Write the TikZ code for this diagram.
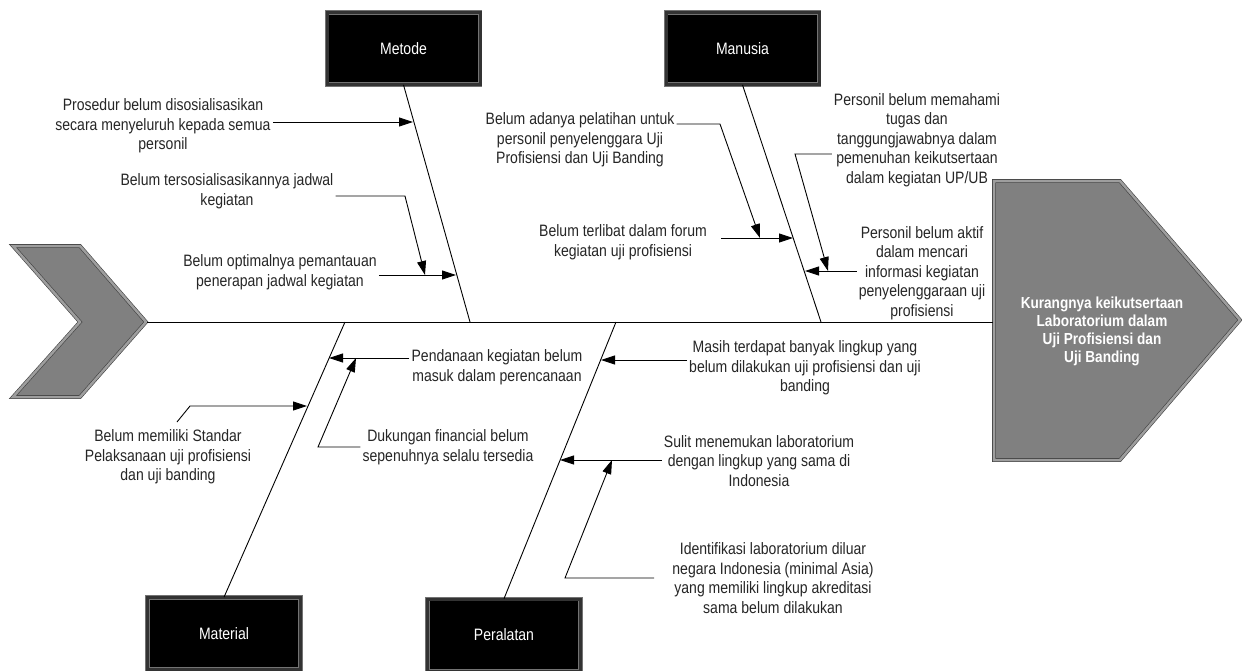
\documentclass[tikz,border=0pt]{standalone}
\usepackage{fontspec}
\setmainfont{Liberation Sans}[FakeStretch=0.85]
\usetikzlibrary{arrows.meta}

\begin{document}
\begin{tikzpicture}[x=1pt,y=-1pt,>={Triangle[length=14pt,width=9pt]},
  font=\fontsize{16.5}{19.5}\selectfont,
  cat/.style={rectangle,fill=black,draw=black!55,double=black!80,double distance=3pt,line width=0.7pt,minimum width=153pt,minimum height=72pt,text=white},
  cause/.style={align=center,text=black!85,inner sep=2pt},
  bone/.style={line width=0.9pt},
  arrowshape/.style={fill=black!50,draw=black!75,double=black!38,double distance=2.5pt,line width=0.6pt}]
\clip (0,0) rectangle (1242,670);
\fill [white] (0,0) rectangle (1242,670);
% tail and head
\filldraw [arrowshape] (13,246) -- (80,246) -- (146,322) -- (80,397) -- (13,397) -- (80,322) -- cycle;
\filldraw [arrowshape] (994,181) -- (1120,181) -- (1240,320) -- (1120,460) -- (994,460) -- cycle;
\coordinate (tail) at (147,322);
\coordinate (head) at (993,322);
\node at (1102,331) (Akibat) [align=center,text=white,font=\fontsize{16}{18}\selectfont\bfseries]
  {Kurangnya keikutsertaan\\Laboratorium dalam\\Uji Profisiensi dan\\Uji Banding};
\draw [bone] (tail) -- (head);

% categories
\node at (403.5,48.5) (Metode) [cat] {Metode};
\node at (742.5,48.5) (Manusia) [cat] {Manusia};
\node at (224,633.5) (Material) [cat] {Material};
\node at (504,635) (Peralatan) [cat] {Peralatan};
\coordinate (m0) at (470,322);
\coordinate (n0) at (821,322);
\coordinate (t0) at (345,322);
\coordinate (p0) at (616,322);
\draw [bone] (Metode.south) -- (m0);
\draw [bone] (Manusia.south) -- (n0);
\draw [bone] (Material.north) -- (t0);
\draw [bone] (Peralatan.north) -- (p0);

% causes
\node at (163,126) (c1) [cause] {Prosedur belum disosialisasikan\\secara menyeluruh kepada semua\\personil};
\node at (227,191) (c2) [cause] {Belum tersosialisasikannya jadwal\\kegiatan};
\node at (280,272) (c3) [cause] {Belum optimalnya pemantauan\\penerapan jadwal kegiatan};
\node at (580,140) (c4) [cause] {Belum adanya pelatihan untuk\\personil penyelenggara Uji\\Profisiensi dan Uji Banding};
\node at (623,242) (c5) [cause] {Belum terlibat dalam forum\\kegiatan uji profisiensi};
\node at (917,140) (c6) [cause] {Personil belum memahami\\tugas dan\\tanggungjawabnya dalam\\pemenuhan keikutsertaan\\dalam kegiatan UP/UB};
\node at (922,273) (c7) [cause] {Personil belum aktif\\dalam mencari\\informasi kegiatan\\penyelenggaraan uji\\profisiensi};
\node at (168,457) (c8) [cause] {Belum memiliki Standar\\Pelaksanaan uji profisiensi\\dan uji banding};
\node at (497,367) (c9) [cause] {Pendanaan kegiatan belum\\masuk dalam perencanaan};
\node at (448,447) (c10) [cause] {Dukungan financial belum\\sepenuhnya selalu tersedia};
\node at (805,368) (c11) [cause] {Masih terdapat banyak lingkup yang\\belum dilakukan uji profisiensi dan uji\\banding};
\node at (759,461) (c12) [cause] {Sulit menemukan laboratorium\\dengan lingkup yang sama di\\Indonesia};
\node at (773,578) (c13) [cause] {Identifikasi laboratorium diluar\\negara Indonesia (minimal Asia)\\yang memiliki lingkup akreditasi\\sama belum dilakukan};

% tips and bends
\coordinate (b1) at (413,122);
\coordinate (k2) at (405,196);
\coordinate (b2) at (425,275);
\coordinate (b3) at (456,275);
\coordinate (k4) at (720,124);
\coordinate (b4) at (760,238);
\coordinate (b5) at (793,238);
\coordinate (k6) at (795,154);
\coordinate (b6) at (828,271);
\coordinate (b7) at (805,271);
\coordinate (s8) at (177,422);
\coordinate (k8) at (190,406);
\coordinate (b8) at (307,406);
\coordinate (b9) at (329,358);
\coordinate (k10) at (318,447);
\coordinate (b10) at (356,358);
\coordinate (b11) at (601,360);
\coordinate (b12) at (560,460);
\coordinate (k13) at (565,578);
\coordinate (b13) at (612,460);

\draw [bone,->] (c1.east |- b1) -- (b1);
\draw [bone,->] (c2.east |- k2) -- (k2) -- (b2);
\draw [bone,->] (c3.east |- b3) -- (b3);
\draw [bone,->] (c4.east |- k4) -- (k4) -- (b4);
\draw [bone,->] ([xshift=12pt]c5.east |- b5) -- (b5);
\draw [bone,->] (c6.west |- k6) -- (k6) -- (b6);
\draw [bone,->] (c7.west |- b7) -- (b7);
\draw [bone,->] (s8) -- (k8) -- (b8);
\draw [bone,->] (c9.west |- b9) -- (b9);
\draw [bone,->] (c10.west |- k10) -- (k10) -- (b10);
\draw [bone,->] (c11.west |- b11) -- (b11);
\draw [bone,->] (c12.west |- b12) -- (b12);
\draw [bone,->] ([xshift=-16pt]c13.west |- k13) -- (k13) -- (b13);
\end{tikzpicture}
\end{document}
